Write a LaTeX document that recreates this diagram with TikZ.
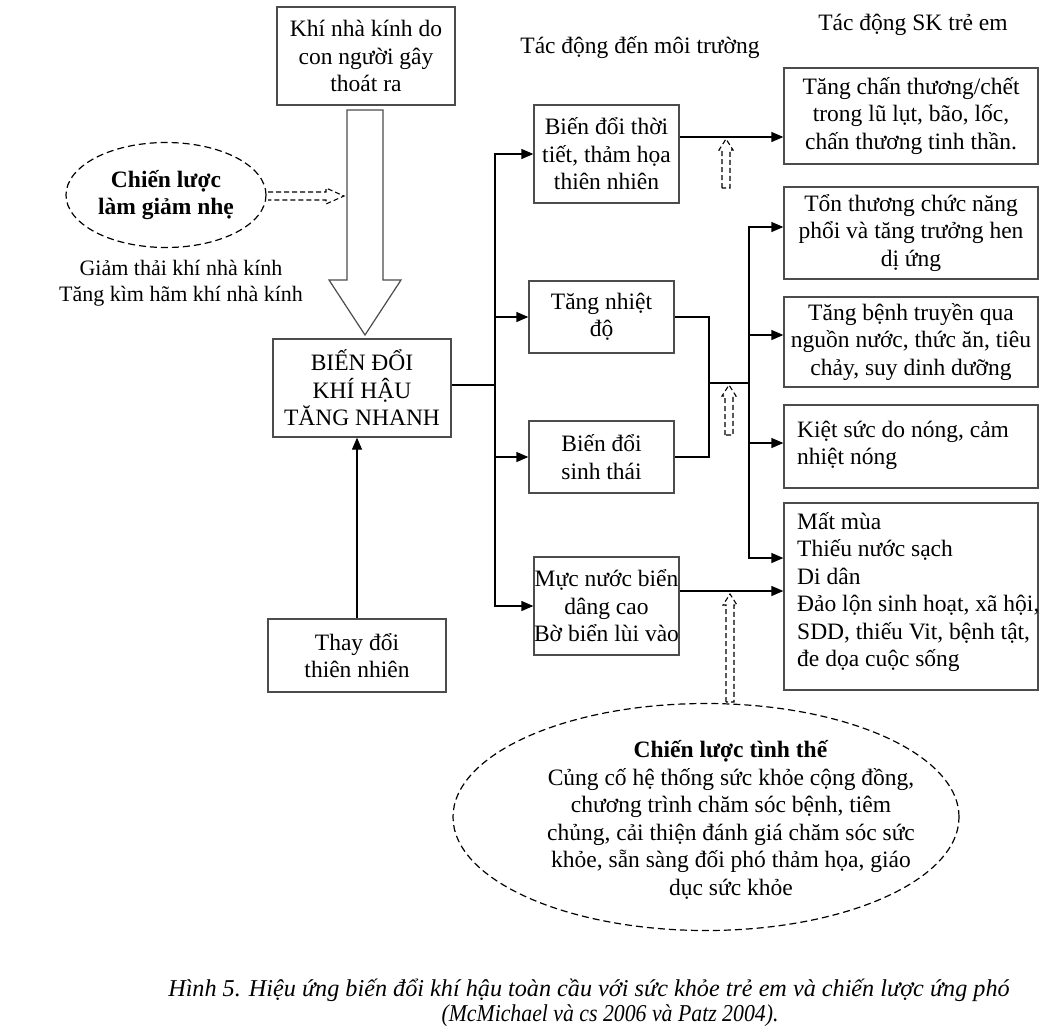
\documentclass[tikz,border=0pt]{standalone}
\usepackage{fontspec}
\usepackage{graphicx}
\setmainfont{Liberation Serif}
\usetikzlibrary{arrows.meta,shapes.geometric}
\newcommand{\fmain}{\fontsize{23.5}{27.5}\selectfont}
\newcommand{\fsmall}{\fontsize{22}{26}\selectfont}
\newcommand{\fcapbig}{\fontsize{24.2}{26}\selectfont\itshape}
\newcommand{\hollowdashup}[3]{%
  \draw[dsharrow] (#1-4,#2) -- (#1-4,#3+11) -- (#1-7,#3+11) -- (#1,#3) -- (#1+7,#3+11) -- (#1+4,#3+11) -- (#1+4,#2) -- cycle;}
\begin{document}
\begin{tikzpicture}[x=1pt,y=-1pt,
  box/.style={draw=black!70, line width=1.3pt, align=center, inner sep=0pt, font=\fmain, text=black},
  ln/.style={draw=black, line width=1.3pt},
  arr/.style={draw=black, line width=1.3pt, -{Triangle[length=12pt,width=10pt]}},
  dsharrow/.style={draw=black, line width=1.1pt, dash pattern=on 5pt off 3pt},
  dshell/.style={ellipse, draw=black, line width=1.2pt, dash pattern=on 7pt off 4pt, inner sep=0pt},
  lbl/.style={font=\fmain, align=center, inner sep=0pt},
  ltxt/.style={font=\fmain, align=left, inner sep=0pt, anchor=west}]
\useasboundingbox (0,0) rectangle (1040,1031);

% left column
\node[box, minimum width=178pt, minimum height=98pt] (ghg) at (366,56) {Khí nhà kính do\\con người gây\\thoát ra};
\node[box, minimum width=178pt, minimum height=98pt] (main) at (362,388) {BIẾN ĐỔI\\KHÍ HẬU\\TĂNG NHANH};
\node[box, minimum width=178pt, minimum height=73pt] (nat) at (357,655.5) {Thay đổi\\thiên nhiên};

% hollow big arrow
\draw[draw=black!70, line width=1.2pt, fill=white] (347,110) -- (383,110) -- (383,280) -- (401,280) -- (365,335) -- (329,280) -- (347,280) -- cycle;

% mitigation ellipse
\node[dshell, minimum width=200pt, minimum height=105pt, font=\fmain\bfseries, align=center] (mit) at (166,195) {Chiến lược\\làm giảm nhẹ};
\draw[dsharrow] (268,192) -- (326,192) -- (326,188) -- (344,196) -- (326,204) -- (326,200) -- (268,200);
\node[font=\fsmall, align=center, inner sep=0pt] (mittxt) at (181,283) {Giảm thải khí nhà kính\\Tăng kìm hãm khí nhà kính};

% headings
\node[lbl] (h1) at (640,48) {Tác động đến môi trường};
\node[lbl] (h2) at (913,25) {Tác động SK trẻ em};

% middle column
\node[box, minimum width=145pt, minimum height=98pt] (weather) at (606.5,154) {Biến đổi thời\\tiết, thảm họa\\thiên nhiên};
\node[box, minimum width=145pt, minimum height=72pt] (temp) at (601.5,317) {Tăng nhiệt\\độ};
\node[box, minimum width=145pt, minimum height=72pt] (eco) at (601.5,457) {Biến đổi\\sinh thái};
\node[box, minimum width=145pt, minimum height=98pt] (sea) at (606.5,606) {Mực nước biển\\dâng cao\\Bờ biển lùi vào};

% right column
\node[box, minimum width=254pt, minimum height=96pt] (r1) at (911,116) {Tăng chấn thương/chết\\trong lũ lụt, bão, lốc,\\chấn thương tinh thần.};
\node[box, minimum width=254pt, minimum height=92pt] (r2) at (911,233) {Tổn thương chức năng\\phổi và tăng trưởng hen\\dị ứng};
\node[box, minimum width=254pt, minimum height=90pt] (r3) at (911,342) {Tăng bệnh truyền qua\\nguồn nước, thức ăn, tiêu\\chảy, suy dinh dưỡng};
\node[box, minimum width=254pt, minimum height=83pt] (r4) at (911,446.5) {};
\node[ltxt] (r4txt) at (797,445.5) {Kiệt sức do nóng, cảm\\nhiệt nóng};
\node[box, minimum width=254pt, minimum height=187pt] (r5) at (911,596.5) {};
\node[ltxt] (r5txt) at (797,592) {Mất mùa\\Thiếu nước sạch\\Di dân\\Đảo lộn sinh hoạt, xã hội,\\SDD, thiếu Vit, bệnh tật,\\đe dọa cuộc sống};

% crisis ellipse
\node[dshell, minimum width=506pt, minimum height=227pt] (crisis) at (706,817) {};
\node[lbl] (crisistxt) at (731,820) {\textbf{Chiến lược tình thế}\\Củng cố hệ thống sức khỏe cộng đồng,\\chương trình chăm sóc bệnh, tiêm\\chủng, cải thiện đánh giá chăm sóc sức\\khỏe, sẵn sàng đối phó thảm họa, giáo\\dục sức khỏe};

% connectors
\draw[arr] (nat.north) -- (nat.north |- main.south);
\coordinate (b1) at (495,385);
\draw[ln] (main.east |- b1) -- (b1);
\draw[arr] (b1) |- (weather.west);
\draw[arr] (b1) |- (temp.west);
\draw[arr] (b1) |- (eco.west);
\draw[arr] (b1) |- (sea.west);

\draw[arr] (weather.east |- 0,137) -- (r1.west |- 0,137);
\draw[ln] (temp.east) -- (709,317) |- (eco.east);
\coordinate (j) at (709,383);
\coordinate (b2) at (749,383);
\draw[ln] (j) -- (b2);
\draw[arr] (b2) |- (r2.west |- 0,227);
\draw[arr] (b2) |- (r3.west |- 0,335);
\draw[arr] (b2) |- (r4.west |- 0,443);
\draw[arr] (b2) |- (r5.west |- 0,558);
\draw[arr] (sea.east |- 0,591) -- (r5.west |- 0,591);

% dashed hollow arrows
\hollowdashup{726}{188}{139}
\hollowdashup{729}{435}{385}
\hollowdashup{730}{702}{594}

% caption
\node[font=\fcapbig, inner sep=0pt] (cap1) at (589,990) {Hình 5. Hiệu ứng biến đổi khí hậu toàn cầu với sức khỏe trẻ em và chiến lược ứng phó};
\node[font=\fcapbig, inner sep=0pt] (cap2) at (610,1016) {\scalebox{0.9}[1]{(McMichael và cs 2006 và Patz 2004).}};
\end{tikzpicture}
\end{document}
